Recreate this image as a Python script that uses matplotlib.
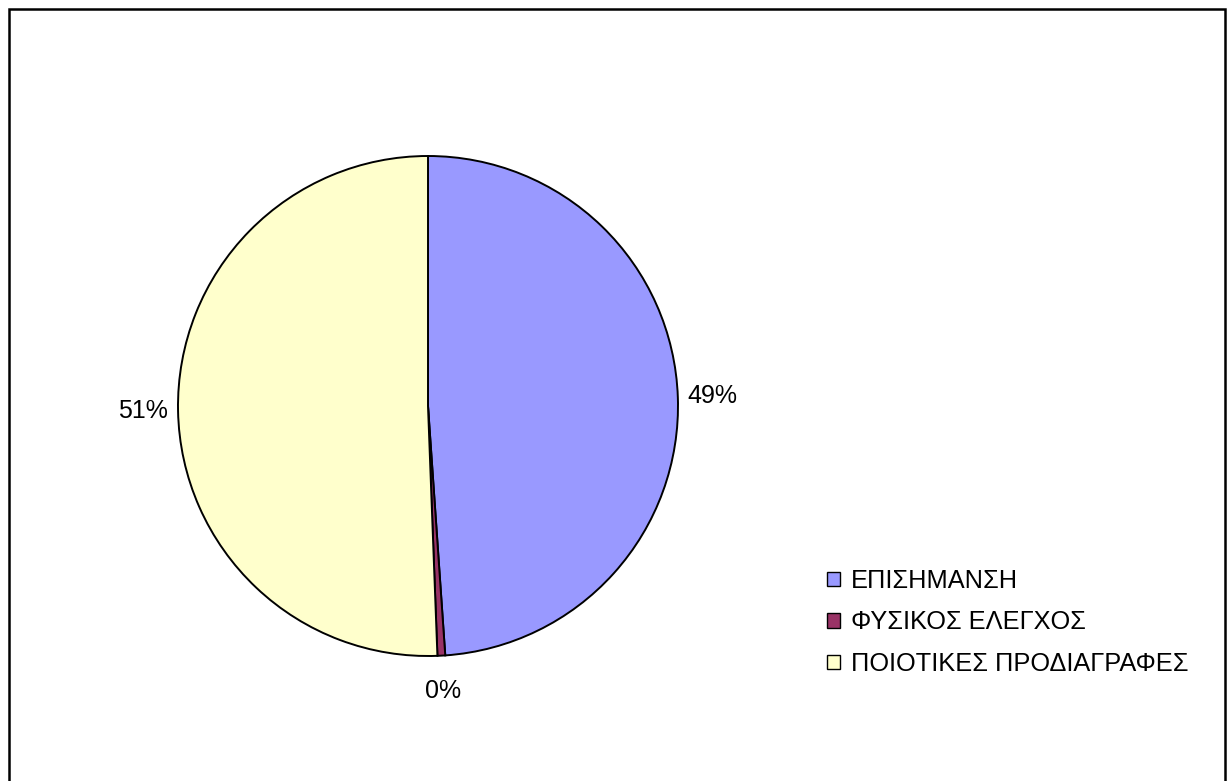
import matplotlib
matplotlib.use('Agg')
import matplotlib.pyplot as plt
import matplotlib.patches as mpatches

# data
categories = ['ΕΠΙΣΗΜΑΝΣΗ', 'ΦΥΣΙΚΟΣ ΕΛΕΓΧΟΣ', 'ΠΟΙΟΤΙΚΕΣ ΠΡΟΔΙΑΓΡΑΦΕΣ']
shares = [48.9, 0.5, 50.6]
colors = ['#9999FF', '#993366', '#FFFFCC']

plt.rcParams['font.family'] = ['Liberation Sans', 'DejaVu Sans']

W, H = 1227, 781
fig = plt.figure(figsize=(W / 100, H / 100), dpi=100)
fig.patch.set_facecolor('white')

# outer frame (bottom edge runs off the image)
frame = mpatches.Rectangle((9 / W, -0.05), (1225 - 9) / W, 1.05 - 9 / H,
                           transform=fig.transFigure, fill=False,
                           edgecolor='black', linewidth=1.8, clip_on=False)
fig.patches.append(frame)

# pie axes: centre ~ (428, 406) px, radius ~250 px
cx, cy, r = 428, 406, 250
ax = fig.add_axes([(cx - r) / W, (H - cy - r) / H, 2 * r / W, 2 * r / H])
wedges, texts, autotexts = ax.pie(
    shares, colors=colors, startangle=90, counterclock=False,
    autopct='%1.0f%%', pctdistance=1.14,
    wedgeprops={'edgecolor': 'black', 'linewidth': 1.4},
    textprops={'fontsize': 18, 'color': 'black'})
ax.set_aspect('equal')
ax.set_xlim(-1, 1)
ax.set_ylim(-1, 1)

# legend
handles = [mpatches.Patch(facecolor=c, edgecolor='black', linewidth=1.0) for c in colors]
fig.legend(handles, categories, loc='upper left',
           bbox_to_anchor=(804 / W, 1 - 546 / H), frameon=False,
           fontsize=18.3, handlelength=0.5, handleheight=0.5,
           handletextpad=0.45, labelspacing=0.69)

fig.savefig('out.png', dpi=100)
